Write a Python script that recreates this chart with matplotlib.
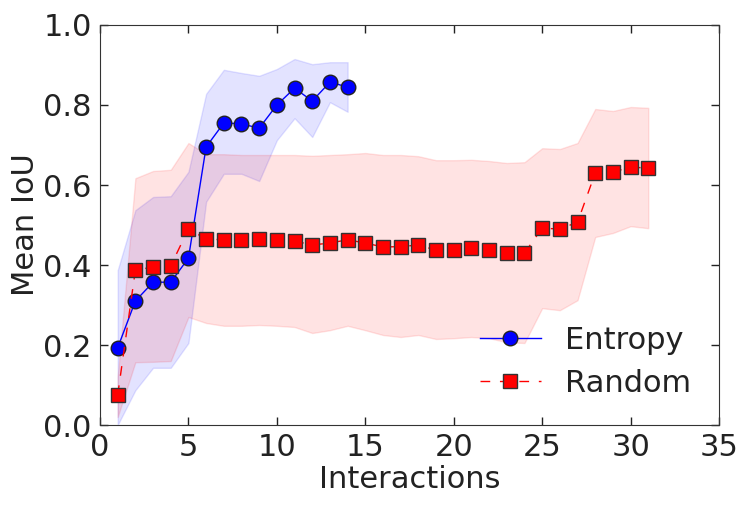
import matplotlib
matplotlib.use('Agg')
import matplotlib.pyplot as plt

# Entropy sampling
x_entropy = [1, 2, 3, 4, 5, 6, 7, 8, 9, 10, 11, 12, 13, 14]
entropy_mean = [0.193, 0.31, 0.357, 0.357, 0.417, 0.695, 0.755, 0.753, 0.742, 0.80,
                0.842, 0.81, 0.857, 0.845]
entropy_upper = [0.387, 0.537, 0.57, 0.572, 0.633, 0.828, 0.888, 0.88, 0.873, 0.89,
                 0.915, 0.902, 0.907, 0.907]
entropy_lower = [0.0, 0.087, 0.143, 0.143, 0.205, 0.558, 0.628, 0.628, 0.61, 0.712,
                 0.767, 0.72, 0.807, 0.783]

# Random sampling
x_random = list(range(1, 32))
random_mean = [0.075, 0.387, 0.395, 0.398, 0.49, 0.465, 0.463, 0.463, 0.465, 0.463,
               0.46, 0.45, 0.455, 0.463, 0.455, 0.445, 0.446, 0.45, 0.437, 0.438,
               0.442, 0.438, 0.43, 0.43, 0.492, 0.49, 0.507, 0.63, 0.632, 0.645, 0.642]
random_upper = [0.12, 0.617, 0.635, 0.638, 0.705, 0.677, 0.677, 0.675, 0.675, 0.675,
                0.675, 0.673, 0.675, 0.677, 0.68, 0.675, 0.675, 0.672, 0.662, 0.662,
                0.663, 0.66, 0.655, 0.657, 0.692, 0.69, 0.705, 0.79, 0.785, 0.795, 0.793]
random_lower = [0.02, 0.157, 0.158, 0.16, 0.27, 0.255, 0.248, 0.248, 0.25, 0.248,
                0.245, 0.23, 0.237, 0.248, 0.237, 0.225, 0.22, 0.225, 0.215, 0.217,
                0.22, 0.217, 0.207, 0.205, 0.292, 0.287, 0.312, 0.47, 0.48, 0.497, 0.492]

plt.rcParams['font.family'] = 'DejaVu Sans'
plt.rcParams['xtick.direction'] = 'in'
plt.rcParams['ytick.direction'] = 'in'
plt.rcParams['xtick.top'] = True
plt.rcParams['ytick.right'] = True

txt = '#222222'
fig = plt.figure(figsize=(7.49, 5.05), dpi=100)
ax = fig.add_axes([0.1335, 0.1584, 0.8265, 0.7921])

ax.fill_between(x_entropy, entropy_lower, entropy_upper, color='blue', alpha=0.11, lw=1)
ax.fill_between(x_random, random_lower, random_upper, color='red', alpha=0.11, lw=1)
ax.plot(x_entropy, entropy_mean, '-o', color='blue', lw=1, ms=10.5,
        mfc='blue', mec='#222222', mew=1, label='Entropy')
ax.plot(x_random, random_mean, 's', ls=(0, (7, 7)), color='red', lw=1, ms=10,
        mfc='red', mec='#333333', mew=1, label='Random')

ax.set_xlim(0, 35)
ax.set_ylim(0, 1.0)
ax.set_xticks(range(0, 36, 5))
ax.set_yticks([0.0, 0.2, 0.4, 0.6, 0.8, 1.0])
ax.tick_params(labelsize=22, colors=txt, length=6, width=1, pad=6)
ax.set_xlabel('Interactions', fontsize=22, color=txt, labelpad=2)
ax.set_ylabel('Mean IoU', fontsize=22, color=txt, labelpad=2)
for s in ax.spines.values():
    s.set_color('#333333')

leg = ax.legend(loc='lower right', frameon=False, fontsize=22, numpoints=1,
                handlelength=2.0, handletextpad=0.8, labelspacing=0.45,
                bbox_to_anchor=(1.0, 0.0))
for t in leg.get_texts():
    t.set_color(txt)

fig.savefig('out.png', dpi=100)
